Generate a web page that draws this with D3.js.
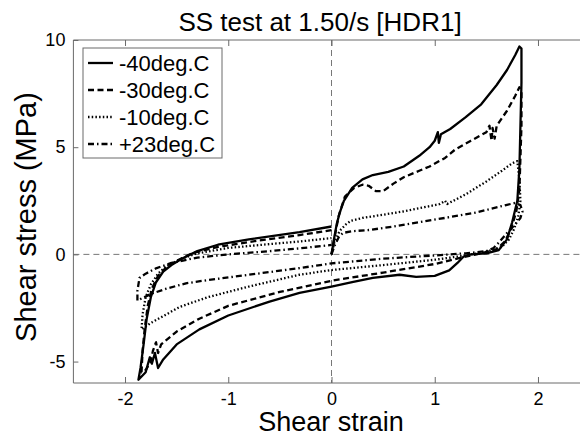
<!DOCTYPE html>
<html>
<head>
<meta charset="utf-8">
<script src="https://cdn.jsdelivr.net/npm/d3@7"></script>
<style>
  body { margin: 0; background: #fff; }
  text { font-family: "Liberation Sans", Arial, sans-serif; fill: #000; }
</style>
</head>
<body>
<div class="container"></div>
<script>
// SS test hysteresis loops, one cycle 0 -> +gmax -> -gmax -> 0
const width = 580;
const height = 439;

const xTicks = [-2, -1, 0, 1, 2];
const yTicks = [-5, 0, 5, 10];
const tempLabels = ['-40deg.C', '-30deg.C', '-10deg.C', '+23deg.C'];

// [strain, stress (MPa)]
const loopM40 = [
    [0, 0], [0.02, 0.6], [0.05, 1.4], [0.08, 1.95], [0.12, 2.5], [0.2, 3.1], [0.3, 3.5], [0.4, 3.7],
    [0.55, 3.85], [0.7, 4.1], [0.85, 4.6], [0.95, 5.0], [1.0, 5.3], [1.03, 5.7], [1.04, 5.2], [1.06, 5.6],
    [1.15, 5.85], [1.3, 6.4], [1.45, 7.0], [1.6, 7.9], [1.7, 8.6], [1.78, 9.3], [1.82, 9.7], [1.84, 9.6],
    [1.84, 8.0], [1.83, 6.0], [1.82, 4.0], [1.8, 2.5], [1.75, 1.5], [1.7, 0.7], [1.62, 0.2], [1.5, 0.05],
    [1.35, 0.0], [1.28, -0.1], [1.22, -0.4], [1.14, -0.75], [1.0, -1.0], [0.82, -1.05], [0.66, -0.95],
    [0.4, -1.1], [0.2, -1.3], [0, -1.5], [-0.31, -1.8], [-0.6, -2.2], [-1.0, -2.85], [-1.28, -3.5],
    [-1.5, -4.2], [-1.63, -4.9], [-1.68, -5.3], [-1.71, -4.6], [-1.74, -5.1], [-1.76, -4.8], [-1.8, -5.5],
    [-1.87, -5.85], [-1.85, -5.3], [-1.82, -4.2], [-1.79, -3.0], [-1.75, -2.0], [-1.7, -1.3],
    [-1.63, -0.8], [-1.55, -0.5], [-1.45, -0.2], [-1.3, 0.15], [-1.1, 0.45], [-0.8, 0.7], [-0.31, 1.04],
    [0, 1.3]
];

const loopM30 = [
    [0, 0], [0.03, 0.8], [0.07, 1.8], [0.13, 2.7], [0.22, 3.1], [0.3, 3.25], [0.36, 3.2], [0.43, 2.95],
    [0.5, 2.95], [0.6, 3.3], [0.7, 3.6], [0.85, 3.9], [0.95, 4.1], [1.1, 4.5], [1.2, 4.9], [1.35, 5.3],
    [1.5, 5.7], [1.53, 6.0], [1.55, 5.3], [1.56, 5.9], [1.58, 5.4], [1.6, 6.0], [1.7, 6.7], [1.78, 7.4],
    [1.82, 7.8], [1.84, 7.6], [1.84, 6.0], [1.83, 4.5], [1.82, 3.0], [1.79, 2.0], [1.74, 1.2],
    [1.68, 0.6], [1.6, 0.25], [1.45, 0.05], [1.3, -0.1], [1.0, -0.45], [0.5, -0.85], [0, -1.23],
    [-0.5, -1.75], [-1.0, -2.4], [-1.28, -3.0], [-1.5, -3.6], [-1.65, -4.2], [-1.68, -4.6],
    [-1.7, -4.1], [-1.73, -4.5], [-1.75, -5.0], [-1.8, -5.4], [-1.84, -5.5], [-1.83, -4.5],
    [-1.81, -3.5], [-1.78, -2.4], [-1.74, -1.6], [-1.68, -1.0], [-1.6, -0.6], [-1.5, -0.3],
    [-1.35, 0.05], [-1.1, 0.35], [-0.7, 0.65], [-0.31, 0.9], [0, 1.13]
];

const loopM10 = [
    [0, 0], [0.03, 0.6], [0.08, 1.1], [0.14, 1.4], [0.19, 1.57], [0.3, 1.7], [0.5, 1.85], [0.69, 2.0],
    [0.9, 2.2], [1.05, 2.35], [1.1, 2.5], [1.12, 2.35], [1.3, 2.8], [1.5, 3.4], [1.65, 3.9],
    [1.75, 4.25], [1.8, 4.35], [1.82, 3.5], [1.83, 2.5], [1.81, 1.8], [1.77, 1.2], [1.72, 0.7],
    [1.65, 0.35], [1.5, 0.12], [1.3, -0.05], [1.0, -0.25], [0.5, -0.5], [0, -0.73], [-0.31, -0.95],
    [-0.8, -1.5], [-1.2, -2.0], [-1.47, -2.45], [-1.6, -2.8], [-1.75, -3.2], [-1.84, -3.5],
    [-1.83, -2.8], [-1.8, -2.0], [-1.75, -1.4], [-1.68, -0.9], [-1.6, -0.55], [-1.45, -0.2],
    [-1.3, 0.05], [-1.0, 0.3], [-0.6, 0.48], [-0.31, 0.6], [0, 0.76]
];

const loopP23 = [
    [0, 0], [0.03, 0.4], [0.07, 0.8], [0.11, 1.0], [0.2, 1.08], [0.37, 1.14], [0.6, 1.3], [0.85, 1.5],
    [1.1, 1.7], [1.4, 1.95], [1.69, 2.3], [1.78, 2.4], [1.83, 2.3], [1.85, 2.0], [1.83, 1.7],
    [1.79, 1.45], [1.74, 1.2], [1.7, 1.0], [1.63, 0.6], [1.57, 0.3], [1.5, 0.15], [1.3, 0.05],
    [1.0, -0.05], [0.5, -0.2], [0, -0.42], [-0.31, -0.64], [-0.8, -0.95], [-1.2, -1.2], [-1.41, -1.35],
    [-1.6, -1.6], [-1.75, -1.85], [-1.88, -2.15], [-1.88, -1.7], [-1.86, -1.1], [-1.8, -0.9],
    [-1.7, -0.65], [-1.55, -0.4], [-1.3, -0.15], [-1.0, 0.0], [-0.6, 0.15], [-0.31, 0.28], [0, 0.44]
];

const loops = [loopM40, loopM30, loopM10, loopP23];
const dashes = [null, '6,3.5', '1.5,2.2', '6,3,1.5,3'];

function draw() {
    const svg = d3.select('.container')
        .append('svg')
        .attr('width', width)
        .attr('height', height);

    const left = 73.4, right = 589.6, top = 40, bottom = 383;
    const xscale = d3.scaleLinear().domain([-2.5, 2.5]).range([left, right]);
    const yscale = d3.scaleLinear().domain([-6, 10]).range([bottom, top]);

    svg.append('clipPath').attr('id', 'plot')
        .append('rect')
        .attr('x', left).attr('y', top)
        .attr('width', right - left).attr('height', bottom - top);

    // zero reference lines
    svg.append('line')
        .attr('x1', xscale(0)).attr('x2', xscale(0))
        .attr('y1', top).attr('y2', bottom)
        .attr('stroke', '#777').attr('stroke-dasharray', '6,4');
    svg.append('line')
        .attr('x1', left).attr('x2', right)
        .attr('y1', yscale(0)).attr('y2', yscale(0))
        .attr('stroke', '#777').attr('stroke-dasharray', '6,4');

    const line = d3.line()
        .x(d => xscale(d[0]))
        .y(d => yscale(d[1]));

    svg.append('g').attr('clip-path', 'url(#plot)')
        .selectAll('path')
        .data(loops)
        .enter()
        .append('path')
        .attr('d', line)
        .attr('fill', 'none')
        .attr('stroke', '#000')
        .attr('stroke-width', 2.3)
        .attr('stroke-linejoin', 'round')
        .attr('stroke-dasharray', (d, i) => dashes[i]);

    // axes box, ticks pointing inwards
    const axisColor = '#6a6a6a';
    const fmt = d => String(d);
    const bottomAxis = svg.append('g')
        .attr('transform', `translate(0,${bottom})`)
        .call(d3.axisBottom(xscale).tickValues(xTicks).tickSize(-6).tickPadding(9).tickFormat(fmt));
    const topAxis = svg.append('g')
        .attr('transform', `translate(0,${top})`)
        .call(d3.axisTop(xscale).tickValues(xTicks).tickSize(-6).tickFormat(''));
    const leftAxis = svg.append('g')
        .attr('transform', `translate(${left},0)`)
        .call(d3.axisLeft(yscale).tickValues(yTicks).tickSize(-5).tickPadding(8).tickFormat(fmt));

    [bottomAxis, topAxis, leftAxis].forEach(g => {
        g.select('.domain').remove();
        g.selectAll('.tick line').attr('stroke', axisColor);
        g.selectAll('text').attr('font-size', 18).attr('fill', '#000')
            .style('font-family', '"Liberation Sans", Arial, sans-serif');
    });

    svg.append('line').attr('x1', left).attr('x2', right).attr('y1', bottom).attr('y2', bottom).attr('stroke', axisColor);
    svg.append('line').attr('x1', left).attr('x2', right).attr('y1', top).attr('y2', top).attr('stroke', axisColor);
    svg.append('line').attr('x1', left).attr('x2', left).attr('y1', top).attr('y2', bottom).attr('stroke', axisColor);

    // titles
    svg.append('text')
        .attr('x', 320).attr('y', 31)
        .attr('text-anchor', 'middle')
        .attr('font-size', 26)
        .text('SS test at 1.50/s [HDR1]');
    svg.append('text')
        .attr('x', 331).attr('y', 431)
        .attr('text-anchor', 'middle')
        .attr('font-size', 27)
        .text('Shear strain');
    svg.append('text')
        .attr('transform', 'translate(36,217) rotate(-90)')
        .attr('text-anchor', 'middle')
        .attr('font-size', 29)
        .text('Shear stress (MPa)');

    // legend
    const legend = svg.append('g');
    legend.append('rect')
        .attr('x', 83).attr('y', 48)
        .attr('width', 139).attr('height', 110)
        .attr('fill', '#fff').attr('stroke', axisColor);
    const rows = legend.selectAll('.row')
        .data(tempLabels)
        .enter()
        .append('g')
        .attr('class', 'row')
        .attr('transform', (d, i) => `translate(0,${63 + i * 27})`);
    rows.append('line')
        .attr('x1', 88).attr('x2', 113)
        .attr('stroke', '#000').attr('stroke-width', 2.3)
        .attr('stroke-dasharray', (d, i) => dashes[i]);
    rows.append('text')
        .attr('x', 119).attr('dy', '0.36em')
        .attr('font-size', 22)
        .text(d => d);
}

draw();
</script>
</body>
</html>
